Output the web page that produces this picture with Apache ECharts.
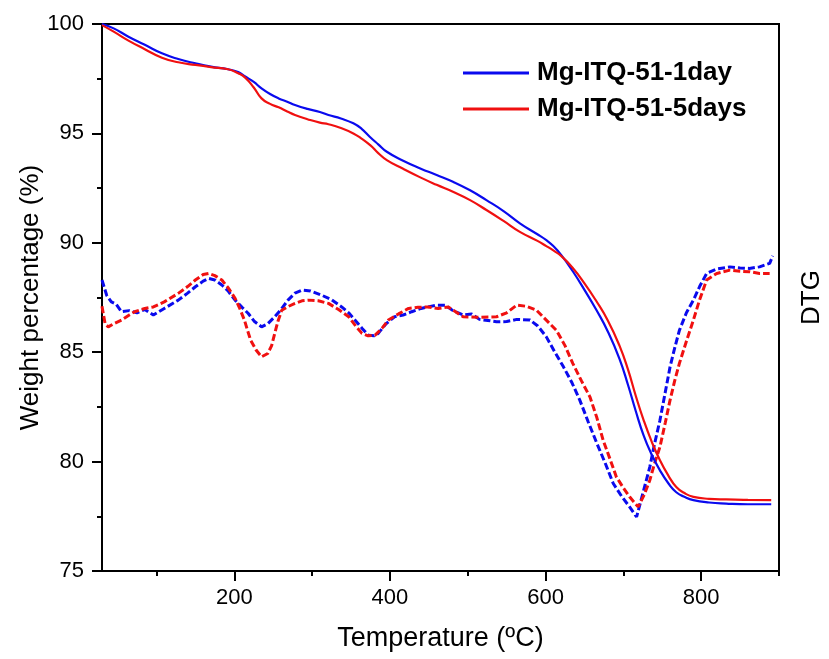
<!DOCTYPE html>
<html>
<head>
<meta charset="utf-8">
<script src="https://cdn.jsdelivr.net/npm/echarts@6/dist/echarts.min.js"></script>
<style>
  html, body { margin: 0; padding: 0; background: #fff; }
  #chart { width: 829px; height: 659px; }
</style>
</head>
<body>
<div id="chart"></div>
<script>
// TG curves (weight %)
const tgTemp1 = [30, 45, 64, 85, 107, 128, 150, 170, 192, 205, 214, 225, 235, 246, 257, 268, 278, 294, 310, 321, 337, 353, 364, 374, 385, 396, 417, 439, 460, 481, 503, 524, 546, 567, 589, 601, 610, 620, 635, 650, 665, 680, 695, 706, 716, 726, 736, 747, 758, 768, 779, 790, 810, 832, 860, 890];
const tgVal1 = [100.0, 99.8, 99.42, 99.05, 98.66, 98.4, 98.2, 98.05, 97.93, 97.8, 97.6, 97.35, 97.06, 96.8, 96.6, 96.45, 96.3, 96.12, 95.98, 95.84, 95.68, 95.46, 95.2, 94.85, 94.5, 94.16, 93.75, 93.4, 93.1, 92.79, 92.4, 91.95, 91.45, 90.89, 90.4, 90.12, 89.85, 89.45, 88.7, 87.85, 86.95, 85.95, 84.7, 83.5, 82.3, 81.2, 80.35, 79.6, 79.0, 78.6, 78.38, 78.24, 78.13, 78.08, 78.05, 78.05];

const tgTemp5 = [30, 45, 64, 85, 107, 128, 150, 170, 192, 205, 214, 225, 235, 246, 257, 268, 278, 294, 310, 321, 337, 353, 364, 375, 385, 396, 417, 439, 460, 481, 503, 524, 546, 567, 589, 601, 610, 620, 635, 650, 665, 680, 695, 706, 716, 726, 736, 747, 758, 768, 779, 790, 810, 832, 860, 890];
const tgVal5 = [99.95, 99.65, 99.24, 98.85, 98.46, 98.25, 98.13, 98.03, 97.93, 97.75, 97.55, 97.1, 96.6, 96.35, 96.19, 96.0, 95.84, 95.65, 95.49, 95.42, 95.25, 95.0, 94.75, 94.45, 94.1, 93.78, 93.38, 92.99, 92.65, 92.33, 91.95, 91.5, 91.0, 90.5, 90.1, 89.85, 89.65, 89.4, 88.85, 88.15, 87.35, 86.45, 85.3, 84.2, 83.0, 81.9, 80.95, 80.06, 79.35, 78.84, 78.55, 78.39, 78.3, 78.27, 78.25, 78.24];

// DTG curves, plotted on the right axis in the same units as the left axis
const dtgTemp1 = [30, 36, 42, 48, 55, 65, 75, 85, 96, 110, 128, 140, 150, 160, 167, 175, 184, 192, 201, 210, 218, 226, 235, 243, 252, 260, 269, 278, 287, 298, 312, 325, 338, 347, 355, 364, 372, 380, 385, 395, 406, 417, 428, 440, 449, 460, 471, 481, 494, 505, 515, 526, 537, 550, 563, 580, 590, 601, 612, 623, 634, 644, 655, 666, 677, 687, 698, 708, 717, 725, 734, 740, 747, 754, 760, 766, 772, 781, 790, 798, 807, 820, 837, 850, 862, 875, 888, 892];
const dtgVal1 = [88.3, 87.6, 87.3, 87.2, 86.85, 86.9, 86.8, 86.95, 86.7, 87.0, 87.38, 87.7, 87.99, 88.25, 88.37, 88.3, 88.07, 87.8, 87.38, 87.05, 86.77, 86.4, 86.16, 86.3, 86.62, 86.95, 87.38, 87.7, 87.84, 87.8, 87.61, 87.4, 87.07, 86.8, 86.47, 86.1, 85.78, 85.75, 85.86, 86.3, 86.62, 86.7, 86.85, 87.0, 87.07, 87.15, 87.15, 86.9, 86.7, 86.75, 86.5, 86.45, 86.39, 86.4, 86.5, 86.47, 86.2, 85.7, 85.0, 84.33, 83.6, 82.81, 81.8, 80.83, 79.9, 79.0, 78.4, 77.93, 77.47, 78.54, 79.76, 80.8, 81.89, 83.2, 84.33, 85.2, 86.0, 86.8, 87.38, 88.0, 88.6, 88.8, 88.9, 88.85, 88.83, 88.9, 89.06, 89.4];

const dtgTemp5 = [30, 34, 38, 45, 55, 65, 72, 85, 96, 110, 128, 140, 150, 160, 167, 175, 184, 192, 201, 207, 213, 217, 221, 228, 235, 243, 248, 252, 256, 261, 270, 278, 287, 295, 308, 321, 334, 347, 356, 364, 372, 381, 390, 398, 411, 424, 436, 449, 462, 475, 494, 515, 537, 550, 563, 575, 588, 600, 614, 625, 635, 646, 657, 666, 674, 683, 691, 700, 708, 719, 727, 734, 740, 747, 754, 760, 766, 772, 781, 790, 798, 807, 820, 837, 850, 862, 875, 888];
const dtgVal5 = [87.1, 86.3, 86.16, 86.3, 86.47, 86.7, 86.85, 87.0, 87.07, 87.3, 87.69, 88.0, 88.3, 88.55, 88.6, 88.5, 88.3, 87.95, 87.46, 87.0, 86.47, 86.0, 85.55, 85.1, 84.79, 84.94, 85.3, 85.86, 86.4, 86.92, 87.1, 87.23, 87.35, 87.38, 87.35, 87.23, 86.95, 86.62, 86.2, 85.86, 85.75, 85.78, 86.1, 86.47, 86.75, 87.0, 87.05, 87.07, 87.0, 87.07, 86.62, 86.6, 86.62, 86.8, 87.15, 87.1, 86.93, 86.5, 86.0, 85.3, 84.49, 83.7, 82.96, 82.0, 80.98, 80.1, 79.3, 78.8, 78.39, 77.93, 78.5, 79.15, 79.9, 80.67, 81.8, 82.81, 83.7, 84.49, 85.5, 86.47, 87.4, 88.3, 88.6, 88.75, 88.7, 88.68, 88.6, 88.6];

const majorTicksX = [200, 400, 600, 800];
const minorTicksX = [100, 300, 500, 700, 900];
const seriesNames = ['Mg-ITQ-51-1day', 'Mg-ITQ-51-5days'];

const BLUE = '#0a0aee';
const RED = '#f01010';
const FONT = 'Arial, "Liberation Sans", sans-serif';

const zip = (xs, ys) => xs.map((x, i) => [x, ys[i]]);

const chart = echarts.init(document.getElementById('chart'));

chart.setOption({
	animation: false,
	textStyle: { fontFamily: FONT, color: '#000' },
	grid: {
		left: 102, right: 50, top: 24, bottom: 88,
		outerBoundsMode: 'none',
		show: true, borderColor: '#000', borderWidth: 2,
	},
	legend: {
		data: seriesNames,
		orient: 'vertical',
		left: 458,
		top: 55,
		icon: 'rect',
		itemWidth: 66,
		itemHeight: 3,
		itemGap: 10,
		textStyle: { fontSize: 26, fontWeight: 'bold', fontFamily: FONT, color: '#000', padding: [0, 0, 0, 3] },
	},
	xAxis: [
		{
			type: 'value',
			min: 30,
			max: 900,
			name: 'Temperature (ºC)',
			nameLocation: 'middle',
			nameGap: 54,
			nameMoveOverlap: false,
			nameTextStyle: { fontSize: 27, fontFamily: FONT, color: '#000' },
			axisLine: { lineStyle: { color: '#000', width: 2 } },
			axisTick: { customValues: majorTicksX, length: 10, lineStyle: { width: 2, color: '#000' } },
			axisLabel: { customValues: majorTicksX, fontSize: 22, margin: 16, color: '#000' },
			splitLine: { show: false },
		},
		{
			// minor ticks only
			type: 'value',
			position: 'bottom',
			min: 30,
			max: 900,
			axisLine: { show: false },
			axisTick: { customValues: minorTicksX, length: 5, lineStyle: { width: 2, color: '#000' } },
			axisLabel: { show: false },
			splitLine: { show: false },
		},
	],
	yAxis: [
		{
			type: 'value',
			min: 75,
			max: 100,
			interval: 5,
			name: 'Weight percentage (%)',
			nameLocation: 'middle',
			nameGap: 58,
			nameMoveOverlap: false,
			nameTextStyle: { fontSize: 26, fontFamily: FONT, color: '#000' },
			axisLine: { show: true, lineStyle: { color: '#000', width: 2 } },
			axisTick: { length: 10, lineStyle: { width: 2, color: '#000' } },
			minorTick: { show: true, splitNumber: 2, length: 5, lineStyle: { width: 2, color: '#000' } },
			axisLabel: { fontSize: 22, margin: 18, color: '#000' },
			splitLine: { show: false },
		},
		{
			type: 'value',
			position: 'right',
			min: 75,
			max: 100,
			name: 'DTG',
			nameLocation: 'middle',
			nameRotate: 90,
			nameGap: 20,
			nameMoveOverlap: false,
			nameTextStyle: { fontSize: 26, fontFamily: FONT, color: '#000' },
			axisLine: { show: true, lineStyle: { color: '#000', width: 2 } },
			axisTick: { show: false },
			axisLabel: { show: false },
			splitLine: { show: false },
		},
	],
	series: [
		{
			name: 'DTG 1day',
			type: 'line',
			yAxisIndex: 1,
			data: zip(dtgTemp1, dtgVal1),
			symbol: 'none',
			lineStyle: { color: BLUE, width: 3, type: [7, 3] },
			z: 2,
		},
		{
			name: 'DTG 5days',
			type: 'line',
			yAxisIndex: 1,
			data: zip(dtgTemp5, dtgVal5),
			symbol: 'none',
			lineStyle: { color: RED, width: 3, type: [7, 3] },
			z: 2,
		},
		{
			name: seriesNames[0],
			type: 'line',
			data: zip(tgTemp1, tgVal1),
			symbol: 'none',
			smooth: 0.5,
			color: BLUE,
			lineStyle: { color: BLUE, width: 2.2 },
			z: 3,
		},
		{
			name: seriesNames[1],
			type: 'line',
			data: zip(tgTemp5, tgVal5),
			symbol: 'none',
			smooth: 0.5,
			color: RED,
			lineStyle: { color: RED, width: 2.2 },
			z: 3,
		},
	],
});
</script>
</body>
</html>
